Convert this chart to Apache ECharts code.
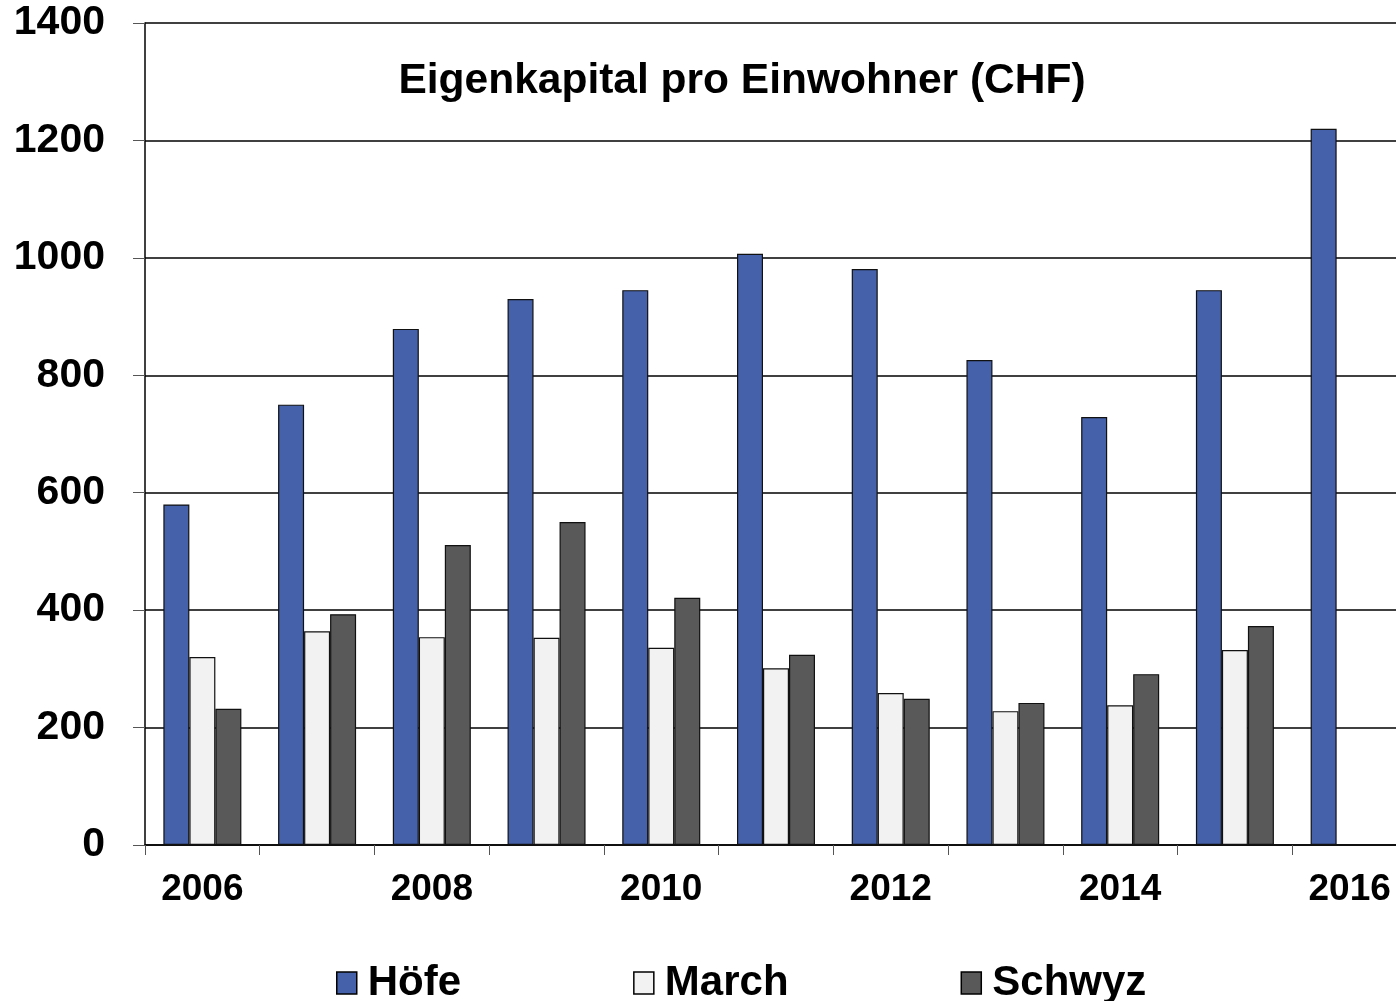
<!DOCTYPE html>
<html>
<head>
<meta charset="utf-8">
<script src="https://cdn.jsdelivr.net/npm/echarts@6/dist/echarts.min.js"></script>
<style>
  html, body { margin: 0; padding: 0; background: #fff; }
  #chart { width: 1396px; height: 1001px; }
</style>
</head>
<body>
<div id="chart"></div>
<script>
// Eigenkapital pro Einwohner (CHF), Höfe / March / Schwyz
var years = ['2006', '2007', '2008', '2009', '2010', '2011', '2012', '2013', '2014', '2015', '2016'];
var hoefe  = [580, 750, 879, 930, 945, 1007, 981, 826, 729, 945, 1220];
var march  = [320, 364, 354, 353, 336, 301, 259, 228, 238, 332, null];
var schwyz = [232, 393, 511, 550, 421, 324, 249, 242, 291, 373, null];
var yTicks = { min: 0, max: 1400, interval: 200 };

var font = 'Liberation Sans, Arial, sans-serif';

function barSeries(name, data, color){
	return {
		name: name,
		type: 'bar',
		data: data,
		barWidth: 26,
		barGap: '0%',
		itemStyle: { color: color, borderColor: '#111', borderWidth: 1.2 }
	};
}

var chart = echarts.init(document.getElementById('chart'));
chart.setOption({
	backgroundColor: '#fff',
	animation: false,
	title: {
		text: 'Eigenkapital pro Einwohner (CHF)',
		left: 737,
		top: 55,
		textAlign: 'center',
		textStyle: { fontFamily: font, fontWeight: 'bold', fontSize: 42.5, color: '#000' }
	},
	legend: {
		top: 957,
		left: 331,
		itemGap: 172,
		itemWidth: 20,
		itemHeight: 22,
		icon: 'rect',
		itemStyle: { borderColor: '#000', borderWidth: 1.5 },
		textStyle: { fontFamily: font, fontWeight: 'bold', fontSize: 42, color: '#000', padding: [0, 0, 0, 6] },
		data: ['Höfe', 'March', 'Schwyz']
	},
	grid: { left: 145, width: 1262, top: 23, bottom: 156, outerBoundsMode: 'none' },
	xAxis: {
		type: 'category',
		data: years,
		axisLine: { lineStyle: { color: '#000', width: 1.5 } },
		axisTick: { show: true, interval: 0, length: 10, lineStyle: { color: '#555' } },
		axisLabel: {
			interval: 1,
			margin: 26,
			fontFamily: font, fontWeight: 'bold', fontSize: 37, color: '#000'
		}
	},
	yAxis: {
		type: 'value',
		min: yTicks.min,
		max: yTicks.max,
		interval: yTicks.interval,
		axisLine: { show: true, lineStyle: { color: '#000', width: 1.5 } },
		axisTick: { show: true, length: 12, lineStyle: { color: '#555' } },
		splitLine: { show: true, lineStyle: { color: '#000', width: 1.5 } },
		axisLabel: {
			margin: 40,
			formatter: function(v){ return String(v); },
			fontFamily: font, fontWeight: 'bold', fontSize: 41, color: '#000'
		}
	},
	series: [
		barSeries('Höfe', hoefe, '#4561aa'),
		barSeries('March', march, '#f2f2f2'),
		barSeries('Schwyz', schwyz, '#595959')
	]
});
</script>
</body>
</html>
